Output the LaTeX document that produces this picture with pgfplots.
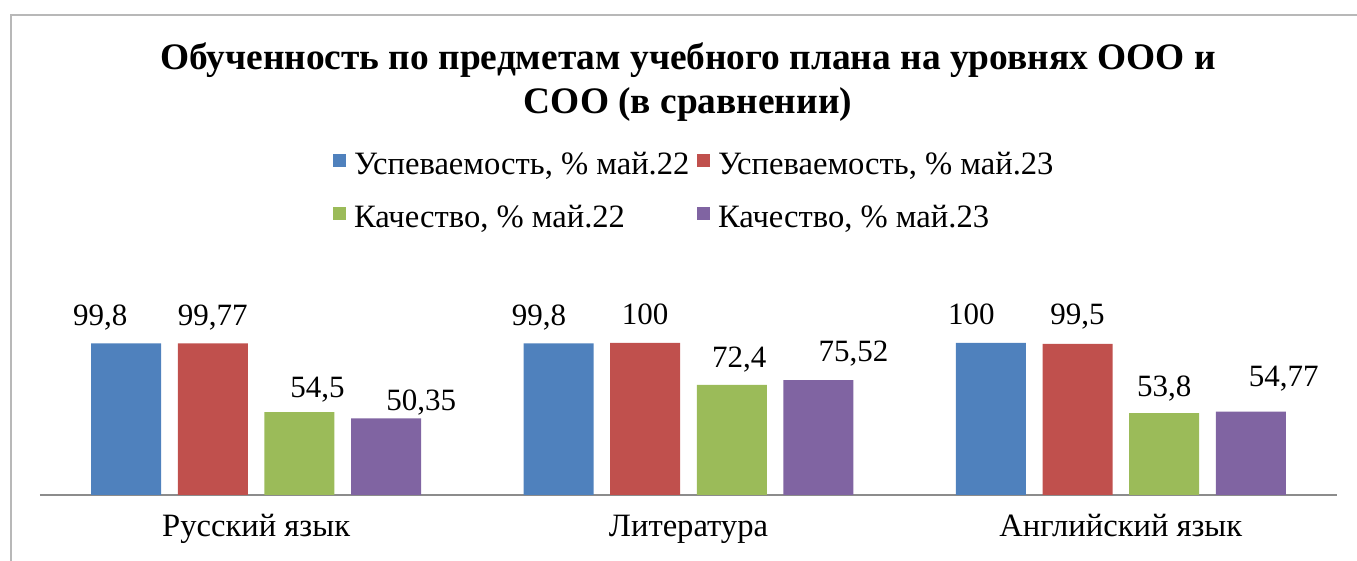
\documentclass[border=0pt]{standalone}
\usepackage{fontspec}
\setmainfont{Liberation Serif}
\usepackage{pgfplots}
\pgfplotsset{compat=1.18}
\usepackage{pgfplotstable}

\definecolor{cA}{HTML}{4F81BD}
\definecolor{cB}{HTML}{C0504D}
\definecolor{cC}{HTML}{9BBB59}
\definecolor{cD}{HTML}{8064A2}

\pgfplotstableread{
x y dx gap label
0 99.8 -26 18 99,8
1 99.8 -19.5 18 99,8
2 100 -19.5 18 100
}\tA
\pgfplotstableread{
x y dx gap label
0 99.77 0 18 99,77
1 100 0 18 100
2 99.5 0 19 99,5
}\tB
\pgfplotstableread{
x y dx gap label
0 54.5 18 15 54,5
1 72.4 7.5 17 72,4
2 53.8 0 17 53,8
}\tC
\pgfplotstableread{
x y dx gap label
0 50.35 35 8 50,35
1 75.52 35 19 75,52
2 54.77 33 25 54,77
}\tD

\newcommand{\txtfont}{\fontsize{16.3}{19}\selectfont}
\newcommand{\numfont}{\fontsize{15.5}{18}\selectfont}

\begin{document}
\begin{tikzpicture}[x=1pt,y=1pt]
\useasboundingbox (0,0) rectangle (678.5,280.5);
\draw[black!28, line width=0.8pt] (5.5,0) -- (5.5,273) -- (678.5,273);
\node[font=\fontsize{18.7}{22}\selectfont\bfseries, anchor=base, inner sep=0pt] at (344,245.5) {Обученность по предметам учебного плана на уровнях ООО и};
\node[font=\fontsize{18.7}{22}\selectfont\bfseries, anchor=base, inner sep=0pt] at (344,223.5) {СОО (в сравнении)};
\begin{axis}[
  at={(20pt,33pt)}, anchor=south west,
  scale only axis, width=648.5pt, height=91.2pt,
  xmin=-0.5, xmax=2.5, ymin=0, ymax=120,
  ybar=8.33pt, bar width=35pt,
  axis x line*=bottom, hide y axis,
  x axis line style={draw=black!45, line width=0.8pt, -},
  xtick={0,1,2}, major tick length=0pt,
  xticklabels={Русский язык, Литература, Английский язык},
  xticklabel style={font=\txtfont, anchor=base, yshift=-21pt, inner sep=0pt},
  clip=false,
  nodes near coords, point meta=explicit symbolic,
  visualization depends on={\thisrow{dx}\as\dx},
  visualization depends on={\thisrow{gap}\as\gap},
  every node near coord/.append style={font=\numfont, anchor=base, inner sep=0pt, xshift=\dx*0.5pt, yshift=\gap*0.5pt},
  legend columns=2,
  legend cell align=left,
  legend image code/.code={\fill[#1] (0pt,0.3pt) rectangle (6.3pt,6.6pt);},
  legend style={at={(0.2259,1.883)}, anchor=north west, draw=none, fill=none, inner sep=0pt,
    column sep=4pt, row sep=11pt,
    nodes={inner sep=0pt, text height=11.5pt, text depth=4pt, font=\txtfont}},
]
\addplot[fill=cA, draw=none] table[x=x, y=y, meta=label] {\tA};
\addlegendentry{Успеваемость, \% май.22}
\addplot[fill=cB, draw=none] table[x=x, y=y, meta=label] {\tB};
\addlegendentry{Успеваемость, \% май.23}
\addplot[fill=cC, draw=none] table[x=x, y=y, meta=label] {\tC};
\addlegendentry{Качество, \% май.22}
\addplot[fill=cD, draw=none] table[x=x, y=y, meta=label] {\tD};
\addlegendentry{Качество, \% май.23}
\end{axis}
\end{tikzpicture}
\end{document}
